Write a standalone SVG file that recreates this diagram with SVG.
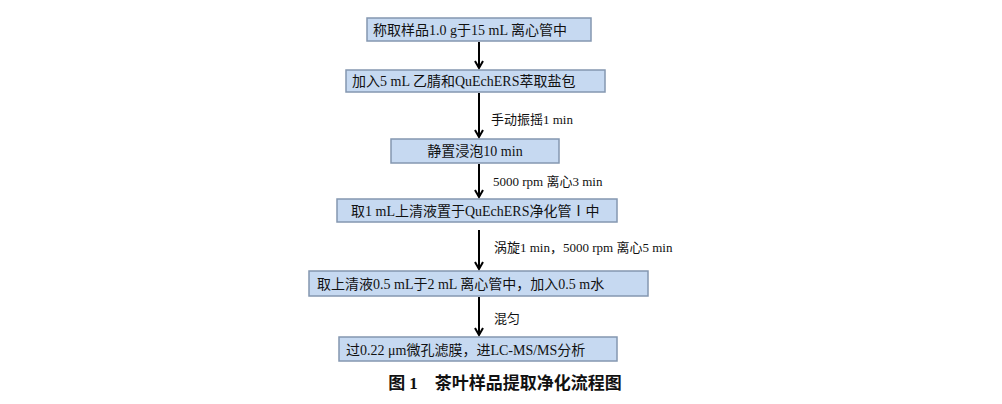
<svg xmlns="http://www.w3.org/2000/svg" width="1002" height="404" viewBox="0 0 1002 404">
<style>
.b{fill:#c6d9f1;stroke:#8497b0;stroke-width:1.5}
.t{font-family:"Liberation Serif","Noto Sans CJK SC",serif;font-size:14px;fill:#111}
.l{font-family:"Liberation Serif","Noto Sans CJK SC",serif;font-size:13px;fill:#111}
.c{font-family:"Liberation Serif","Noto Sans CJK SC",serif;font-size:17px;font-weight:bold;fill:#111}
.a{stroke:#000;stroke-width:2;fill:none;marker-end:url(#m)}
</style>
<defs><marker id="m" markerWidth="10" markerHeight="10" refX="8" refY="5" orient="auto" markerUnits="userSpaceOnUse"><path d="M1,1 L8,5 L1,9" fill="none" stroke="#000" stroke-width="2"/></marker></defs>
<rect width="1002" height="404" fill="#fff"/>
<g id="connectors">
<line class="a" x1="479" y1="42" x2="479" y2="68"/>
<line class="a" x1="479" y1="93" x2="479" y2="137"/>
<line class="a" x1="479" y1="164" x2="479" y2="197"/>
<line class="a" x1="479" y1="230" x2="479" y2="269"/>
<line class="a" x1="479" y1="297" x2="479" y2="335"/>
<text class="l" x="491" y="124">手动振摇1 min</text>
<text class="l" x="493" y="186">5000 rpm 离心3 min</text>
<text class="l" x="494" y="252">涡旋1 min，5000 rpm 离心5 min</text>
<text class="l" x="494" y="323">混匀</text>
</g>
<g id="n1"><rect class="b" x="367" y="18" width="224" height="23"/><text class="t" x="373" y="35">称取样品1.0 g于15 mL 离心管中</text></g>
<g id="n2"><rect class="b" x="346" y="70" width="259" height="22"/><text class="t" x="352" y="86">加入5 mL 乙腈和QuEchERS萃取盐包</text></g>
<g id="n3"><rect class="b" x="391" y="139" width="168" height="24"/><text class="t" x="475" y="156" text-anchor="middle">静置浸泡10 min</text></g>
<g id="n4"><rect class="b" x="337" y="199" width="280" height="23"/><text class="t" x="351" y="216">取1 mL上清液置于QuEchERS净化管Ⅰ中</text></g>
<g id="n5"><rect class="b" x="309" y="271" width="339" height="25"/><text class="t" x="317" y="289">取上清液0.5 mL于2 mL 离心管中，加入0.5 m水</text></g>
<g id="n6"><rect class="b" x="339" y="337" width="278" height="24"/><text class="t" x="346" y="355">过0.22 μm微孔滤膜，进LC-MS/MS分析</text></g>
<text class="c" x="505" y="389" text-anchor="middle">图 1　茶叶样品提取净化流程图</text>
</svg>
